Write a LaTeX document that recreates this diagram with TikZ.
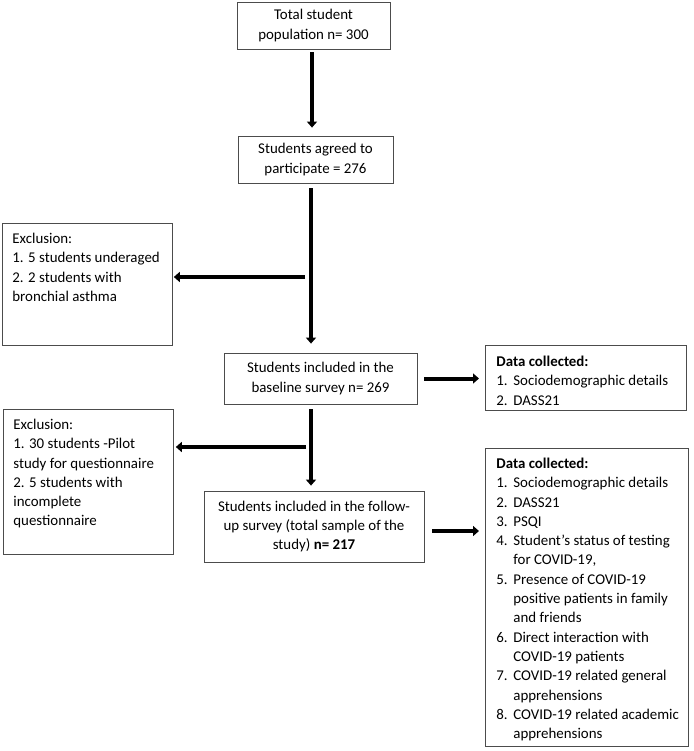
\documentclass[tikz,border=0pt]{standalone}
\usepackage{fontspec}
\setmainfont{Carlito}
\usetikzlibrary{arrows.meta,calc}
\newcommand\fs{\fontsize{14.9pt}{19.3pt}\selectfont}
\newcommand\itm[1]{\makebox[17pt][l]{#1}}
\newcommand\cnt{\hspace*{17pt}}
\begin{document}
\begin{tikzpicture}[x=1pt,y=-1pt,
  box/.style={draw=black!70,line width=0.8pt,inner sep=0pt,font=\fs},
  cbox/.style={box,align=center},
  arr/.style={line width=4pt,-{Triangle[width=10pt,length=6pt]}}]
\useasboundingbox (0,0) rectangle (693,751);
% centred boxes
\node[cbox,minimum width=153pt,minimum height=47pt] (b1) at (313.5,25.5) {Total student\\population n= 300};
\node[cbox,minimum width=155pt,minimum height=47pt] (b2) at (315.5,159.5) {Students agreed to\\participate = 276};
\node[cbox,minimum width=193pt,minimum height=51pt] (b3) at (320.5,378.5) {Students included in the\\baseline survey n= 269};
\node[cbox,minimum width=220pt,minimum height=71pt] (b4) at (314,526.5) {Students included in the follow-\\up survey (total sample of the\\study) \textbf{n= 217}};
% top-aligned boxes
\node[box,anchor=north west] (ex1) at (2,223) {\parbox[c][122pt][t]{170pt}{\leftskip=10pt\rule{0pt}{20pt}Exclusion:\\1. 5 students underaged\\2. 2 students with\\bronchial asthma}};
\node[box,anchor=north west] (ex2) at (3,409) {\parbox[c][145pt][t]{170pt}{\leftskip=10pt\rule{0pt}{20pt}Exclusion:\\1. 30 students -Pilot\\study for questionnaire\\2. 5 students with\\incomplete\\questionnaire}};
\node[box,anchor=north west] (d1) at (485,345) {\parbox[c][65pt][t]{201pt}{\leftskip=11pt\rule{0pt}{21pt}\textbf{Data collected:}\\\itm{1.}Sociodemographic details\\\itm{2.}DASS21}};
\node[box,anchor=north west] (d2) at (485,448) {\parbox[c][298pt][t]{203pt}{\leftskip=11pt\rule{0pt}{20pt}\textbf{Data collected:}\\
\itm{1.}Sociodemographic details\\
\itm{2.}DASS21\\
\itm{3.}PSQI\\
\itm{4.}Student’s status of testing\\
\cnt for COVID-19,\\
\itm{5.}Presence of COVID-19\\
\cnt positive patients in family\\
\cnt and friends\\
\itm{6.}Direct interaction with\\
\cnt COVID-19 patients\\
\itm{7.}COVID-19 related general\\
\cnt apprehensions\\
\itm{8.}COVID-19 related academic\\
\cnt apprehensions}};
% connectors
\coordinate (trunk) at (311,0);
\coordinate (j1) at (311,277);
\coordinate (j2) at (311,447);
\draw[arr,shorten <=3pt,shorten >=8pt] (b1.south -| 312,0) -- (b2.north -| 312,0);
\draw[arr,shorten <=5pt,shorten >=9pt] (b2.south -| trunk) -- (b3.north -| trunk);
\draw[arr,shorten <=6pt,shorten >=1pt] (j1) -- (j1 -| ex1.east);
\draw[arr,shorten <=5pt,shorten >=5pt] (b3.south -| trunk) -- (b4.north -| trunk);
\draw[arr,shorten <=5pt,shorten >=2pt] (j2) -- (j2 -| ex2.east);
\draw[arr,shorten <=7pt,shorten >=6pt] (b3.east) -- (b3.east -| d1.west);
\draw[arr,shorten <=8pt,shorten >=6pt] ($(b4.east)+(0,4.5)$) -- ($(b4.east -| d2.west)+(0,4.5)$);
\end{tikzpicture}
\end{document}
